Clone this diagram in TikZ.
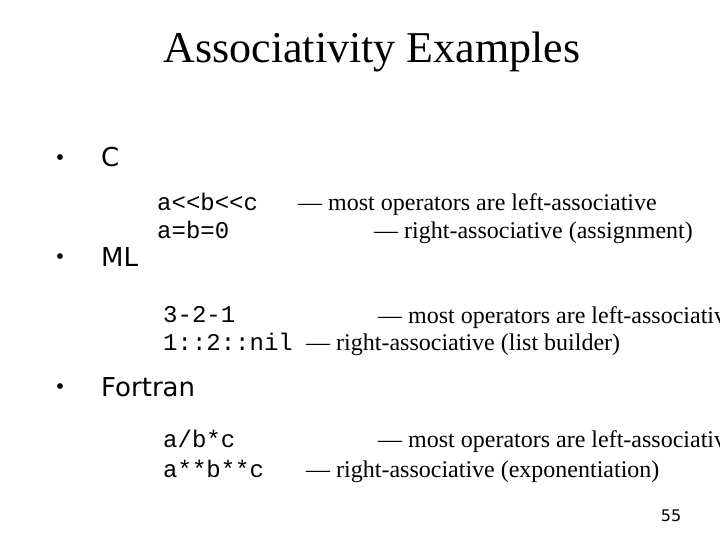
\documentclass[tikz,border=0pt]{standalone}
\usepackage{fontspec}
\setmainfont{Liberation Serif}
\setsansfont{DejaVu Sans}
\setmonofont{Liberation Mono}
\begin{document}
\begin{tikzpicture}[x=1pt,y=-1pt,
  bul/.style={anchor=west,font=\sffamily\fontsize{26}{28}\selectfont,inner sep=0},
  dot/.style={font=\fontsize{24}{26}\selectfont,inner sep=0},
  code/.style={anchor=west,font=\ttfamily\fontsize{24}{26}\selectfont,inner sep=0},
  cmt/.style={anchor=west,font=\fontsize{24}{26}\selectfont,inner sep=0}]
\clip (0,0) rectangle (720,540);
\fill[white] (0,0) rectangle (720,540);
\node[font=\fontsize{44}{48}\selectfont,inner sep=0] (title) at (372,52) {Associativity Examples};
\node[dot] (d1) at (60,160) {•};
\node[dot] (d2) at (60,259) {•};
\node[dot] (d3) at (60,389) {•};
\node[bul] (b1) at (101,157) {C};
\node[bul] (b2) at (101,257) {ML};
\node[bul] (b3) at (101,387) {Fortran};
\node[code] (c1) at (157,202) {a<<b<<c};
\node[code] (c2) at (157,230) {a=b=0};
\node[cmt] (m1) at (298,205) {— most operators are left-associative};
\node[cmt] (m2) at (374,233) {— right-associative (assignment)};
\node[code] (c3) at (163,315) {3-2-1};
\node[code] (c4) at (163,342) {1::2::nil};
\node[cmt] (m3) at (378,318) {— most operators are left-associative};
\node[cmt] (m4) at (306,345) {— right-associative (list builder)};
\node[code] (c5) at (163,439) {a/b*c};
\node[code] (c6) at (163,469) {a**b**c};
\node[cmt] (m5) at (378,442) {— most operators are left-associative};
\node[cmt] (m6) at (306,472) {— right-associative (exponentiation)};
\node[font=\sffamily\fontsize{16}{18}\selectfont,inner sep=0] (pg) at (671,516) {55};
\end{tikzpicture}
\end{document}
